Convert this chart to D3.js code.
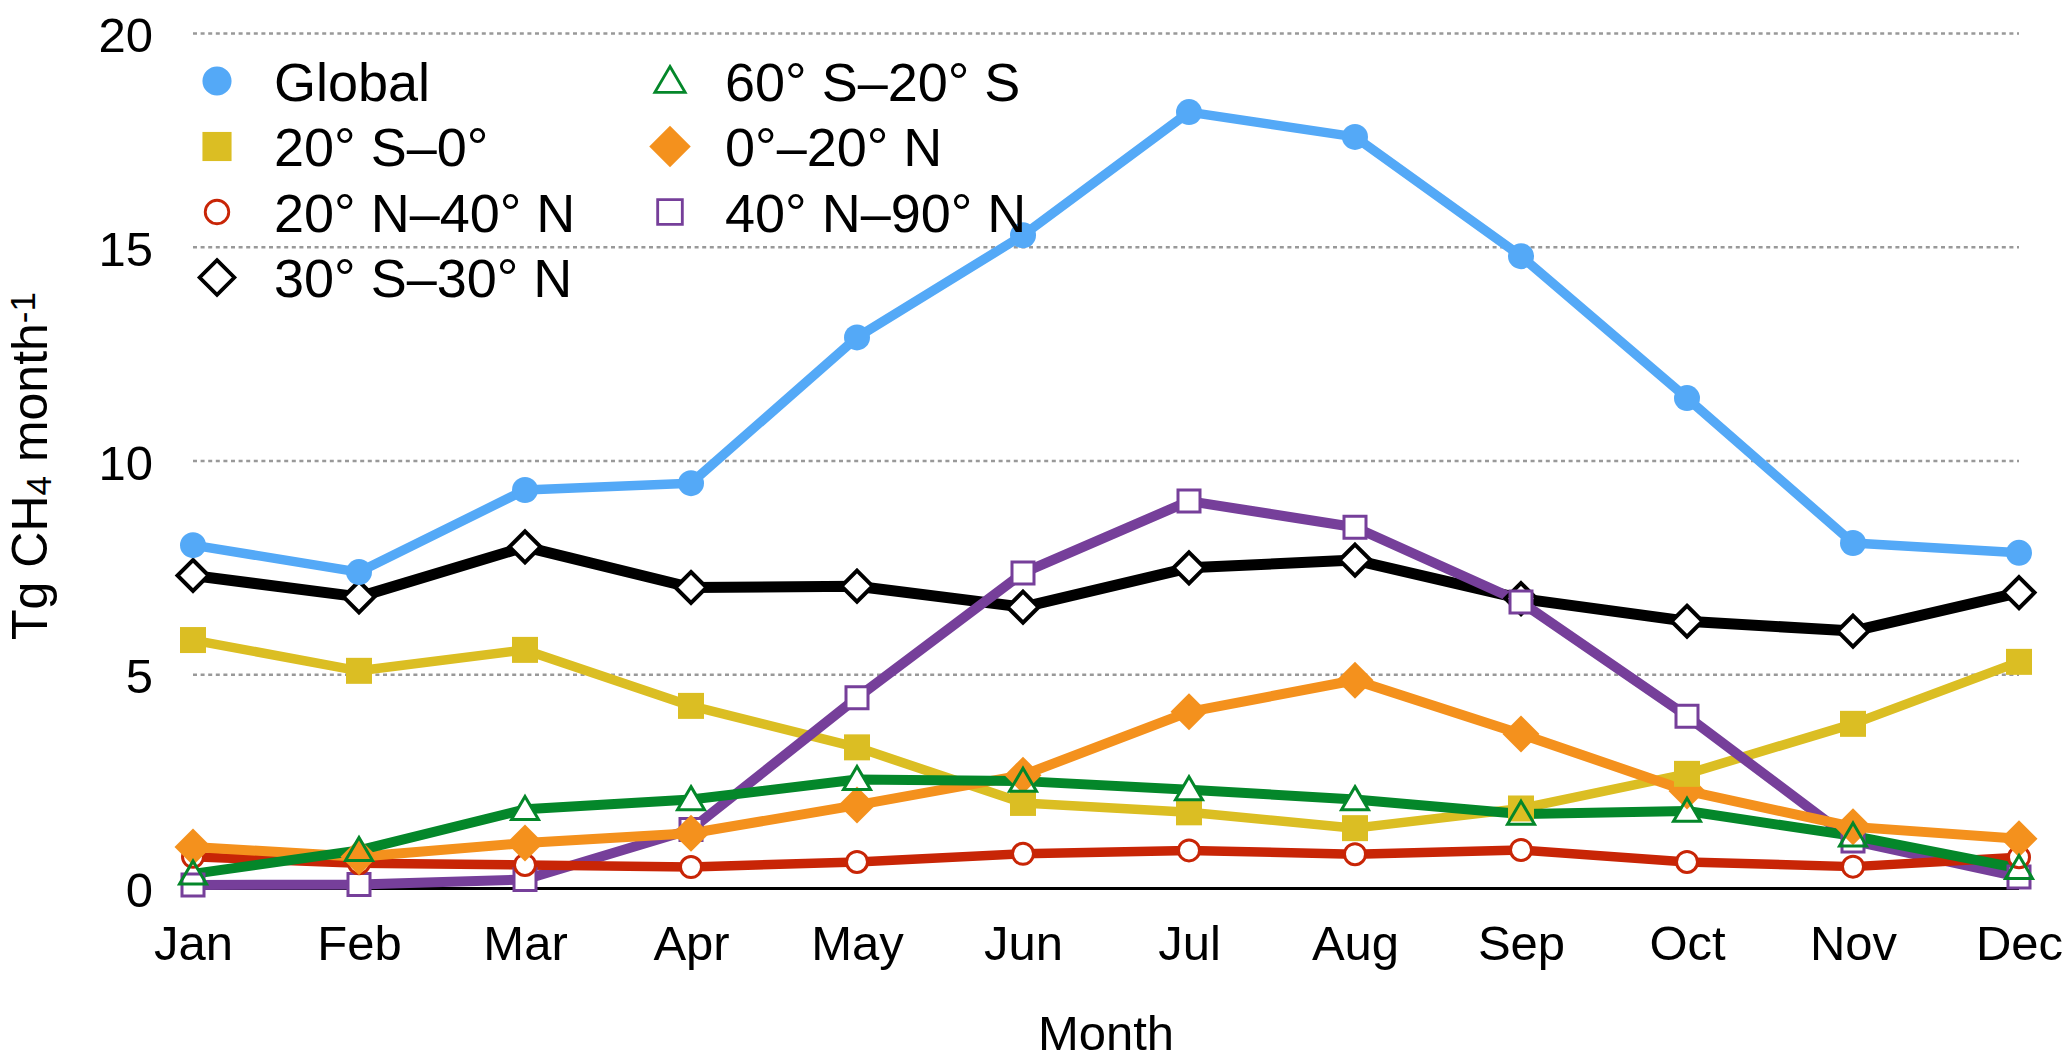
<!DOCTYPE html>
<html>
<head>
<meta charset="utf-8">
<script src="https://cdn.jsdelivr.net/npm/d3@7"></script>
<style>
  body { margin: 0; background: #fff; }
  svg { display: block; }
  text { font-family: "Liberation Sans", Arial, Helvetica, sans-serif; fill: #000; }
</style>
</head>
<body>
<svg id="chart" width="2067" height="1060"></svg>
<script>
// ---------------- DATA ----------------
const months = ["Jan","Feb","Mar","Apr","May","Jun","Jul","Aug","Sep","Oct","Nov","Dec"];
const yTickValues = [0, 5, 10, 15, 20];

const globalVals   = [8.02, 7.39, 9.31, 9.47, 12.88, 15.27, 18.15, 17.57, 14.78, 11.46, 8.07, 7.84];
const s20S_0       = [5.80, 5.08, 5.57, 4.26, 3.29, 1.99, 1.77, 1.40, 1.86, 2.67, 3.84, 5.29];
const s20N_40N     = [0.73, 0.58, 0.54, 0.49, 0.61, 0.80, 0.88, 0.79, 0.89, 0.61, 0.50, 0.72];
const s30S_30N     = [7.31, 6.81, 7.98, 7.03, 7.06, 6.57, 7.49, 7.67, 6.77, 6.24, 6.01, 6.91];
const s60S_20S     = [0.33, 0.88, 1.84, 2.07, 2.54, 2.50, 2.30, 2.07, 1.73, 1.80, 1.22, 0.46];
const s0_20N       = [0.96, 0.73, 1.05, 1.28, 1.94, 2.64, 4.12, 4.86, 3.60, 2.27, 1.43, 1.15];
const s40N_90N     = [0.07, 0.08, 0.20, 1.37, 4.45, 7.37, 9.05, 8.44, 6.69, 4.02, 1.10, 0.26];

const seriesNames  = ["Global", "20° S–0°", "20° N–40° N", "30° S–30° N", "60° S–20° S", "0°–20° N", "40° N–90° N"];
const seriesValues = [globalVals, s20S_0, s20N_40N, s30S_30N, s60S_20S, s0_20N, s40N_90N];

// ---------------- STYLES ----------------
const styles = [
  { color: "#54a9f7", lw: 9.5, mk: { t: "circle",   w: 26,   fill: true } },
  { color: "#dbbe23", lw: 9.5, mk: { t: "square",   w: 26,   fill: true } },
  { color: "#c82506", lw: 9.5, mk: { t: "circle",   w: 21,   fill: false, sw: 3 } },
  { color: "#000000", lw: 11,  mk: { t: "diamond",  w: 31, h: 31, fill: false, sw: 4 } },
  { color: "#04872a", lw: 10,  mk: { t: "triangle", w: 27, h: 23, fill: false, sw: 3, noFill: true } },
  { color: "#f4911d", lw: 10,  mk: { t: "diamond",  w: 37, h: 37, fill: true } },
  { color: "#763f9a", lw: 10,  mk: { t: "square",   w: 22,   fill: false, sw: 3 } }
];
const lineOrder   = [1, 3, 6, 2, 5, 4, 0];
const markerOrder = [3, 6, 2, 5, 1, 4, 0];

// ---------------- LAYOUT ----------------
const W = 2067, H = 1060;
const x = d3.scalePoint().domain(months).range([193, 2019]);
const y = d3.scaleLinear().domain([0, 20]).range([888, 33]);

const svg = d3.select("#chart");

function markerPath(mk, k) {
  const p = d3.path();
  const w = mk.w * k, h = (mk.h || mk.w) * k;
  if (mk.t === "circle") {
    const r = w / 2;
    p.moveTo(r, 0); p.arc(0, 0, r, 0, 2 * Math.PI); p.closePath();
  } else if (mk.t === "square") {
    p.rect(-w / 2, -w / 2, w, w);
  } else if (mk.t === "diamond") {
    p.moveTo(0, -h / 2); p.lineTo(w / 2, 0); p.lineTo(0, h / 2); p.lineTo(-w / 2, 0); p.closePath();
  } else if (mk.t === "triangle") {
    p.moveTo(0, -h * 0.56); p.lineTo(w / 2, h * 0.44); p.lineTo(-w / 2, h * 0.44); p.closePath();
  }
  return p.toString();
}

// ---------------- GRID / AXES ----------------
const yAxis = d3.axisLeft(y).tickValues(yTickValues)
  .tickSize(-(x.range()[1] - x.range()[0])).tickPadding(40);
const gy = svg.append("g").attr("transform", `translate(${x.range()[0]},0)`).call(yAxis);
gy.select(".domain").remove();
gy.selectAll(".tick line")
  .attr("stroke", d => d === 0 ? "#000" : "#999")
  .attr("stroke-width", d => d === 0 ? 3 : 2.4)
  .attr("stroke-dasharray", d => d === 0 ? null : "4 3.6");
gy.selectAll(".tick text").attr("font-size", 49).attr("dy", "0.38em")
  .attr("font-family", '"Liberation Sans", Arial, Helvetica, sans-serif').attr("fill", "#000");

const xAxis = d3.axisBottom(x).tickSize(0).tickPadding(37);
const gx = svg.append("g").attr("transform", `translate(0,${y(0)})`).call(xAxis);
gx.select(".domain").remove();
gx.selectAll(".tick text").attr("font-size", 49)
  .attr("font-family", '"Liberation Sans", Arial, Helvetica, sans-serif').attr("fill", "#000");

// axis titles
svg.append("text").attr("x", (x.range()[0] + x.range()[1]) / 2).attr("y", 1050)
  .attr("text-anchor", "middle").attr("font-size", 49).text("Month");

const yl = svg.append("text").attr("transform", "translate(47,466) rotate(-90)")
  .attr("text-anchor", "middle").attr("font-size", 50);
yl.append("tspan").text("Tg CH");
yl.append("tspan").attr("font-size", 35).attr("dy", 4).text("4");
yl.append("tspan").attr("dy", -4).text(" month");
yl.append("tspan").attr("font-size", 35).attr("dy", -12).text("-1");

// ---------------- MASK for open triangles (line gaps) ----------------
const defs = svg.append("defs");
const mask = defs.append("mask").attr("id", "triMask")
  .attr("maskUnits", "userSpaceOnUse").attr("x", 0).attr("y", 0).attr("width", W).attr("height", H);
mask.append("rect").attr("width", W).attr("height", H).attr("fill", "#fff");
styles.forEach((st, si) => {
  if (st.mk.noFill) {
    mask.selectAll(null).data(seriesValues[si]).enter().append("path")
      .attr("d", markerPath(st.mk, 1))
      .attr("transform", (d, i) => `translate(${x(months[i])},${y(d)})`)
      .attr("fill", "#000");
  }
});

// ---------------- LINES ----------------
const line = d3.line().x((d, i) => x(months[i])).y(d => y(d));
const gLines = svg.append("g");
lineOrder.forEach(si => {
  const st = styles[si];
  const pth = gLines.append("path").datum(seriesValues[si])
    .attr("d", line).attr("fill", "none")
    .attr("stroke", st.color).attr("stroke-width", st.lw)
    .attr("stroke-linejoin", "round");
  if (st.mk.noFill) pth.attr("mask", "url(#triMask)");
});

// ---------------- MARKERS ----------------
const gMarks = svg.append("g");
function drawMarker(sel, st, k) {
  const mk = st.mk;
  sel.attr("d", markerPath(mk, k))
    .attr("fill", mk.fill ? st.color : (mk.noFill ? "none" : "#fff"))
    .attr("stroke", mk.fill ? "none" : st.color)
    .attr("stroke-width", mk.fill ? 0 : mk.sw * (k > 1 ? 0.95 : 1))
    .attr("stroke-linejoin", "miter");
}
markerOrder.forEach(si => {
  const st = styles[si];
  gMarks.selectAll(null).data(seriesValues[si]).enter().append("path")
    .attr("transform", (d, i) => `translate(${x(months[i])},${y(d)})`)
    .call(drawMarker, st, 1);
});

// ---------------- LEGEND ----------------
const legend = svg.append("g");
const legCols = [{ mx: 217, tx: 274 }, { mx: 670, tx: 725 }];
seriesNames.forEach((name, i) => {
  const col = i < 4 ? 0 : 1;
  const row = i < 4 ? i : i - 4;
  const cy = 81 + row * 65.5;
  const st = styles[i];
  legend.append("path").attr("transform", `translate(${legCols[col].mx},${cy})`)
    .call(drawMarker, st, 1.12);
  legend.append("text").attr("x", legCols[col].tx).attr("y", cy + 19.5)
    .attr("font-size", 54).text(name);
});
</script>
</body>
</html>
